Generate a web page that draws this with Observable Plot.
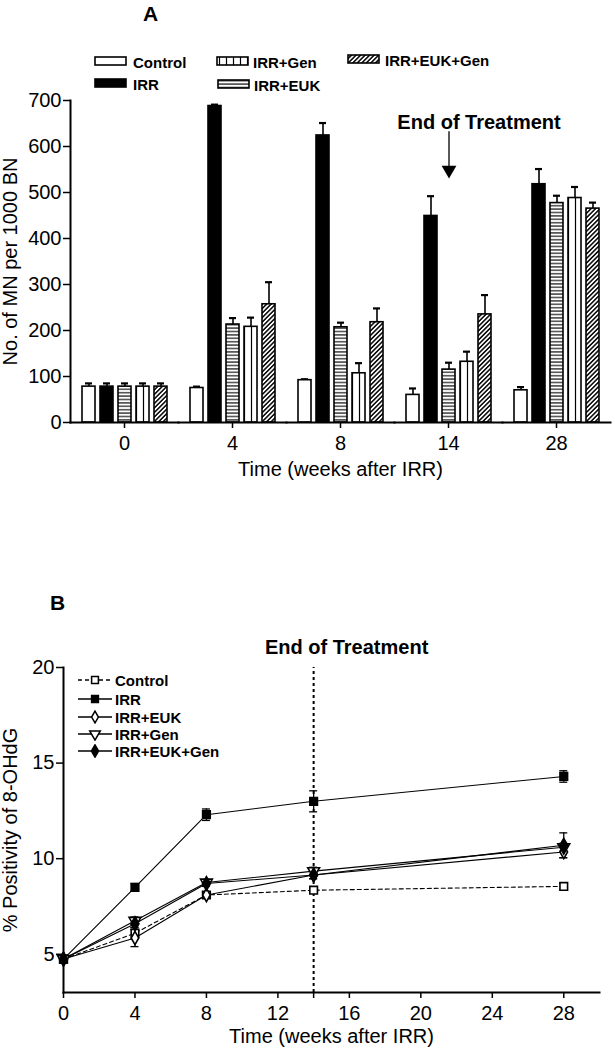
<!DOCTYPE html>
<html><head><meta charset="utf-8">
<script src="https://cdn.jsdelivr.net/npm/d3@7"></script>
<script src="https://cdn.jsdelivr.net/npm/@observablehq/plot@0.6"></script>
<style>
body{margin:0;background:#fff;font-family:"Liberation Sans",Arial,sans-serif;}
#root{position:relative;width:615px;height:1050px;overflow:hidden;background:#fff;}
.abs{position:absolute;}
.lab{position:absolute;font-weight:bold;color:#000;white-space:nowrap;line-height:1;}
</style></head><body>
<svg width="0" height="0" style="position:absolute">
<defs>
<pattern id="pH" patternUnits="userSpaceOnUse" width="4" height="3.4"><rect width="4" height="3.4" fill="white"/><line x1="0" y1="1.7" x2="4" y2="1.7" stroke="black" stroke-width="1.1"/></pattern>
<pattern id="pV" patternUnits="userSpaceOnUse" width="7" height="4"><rect width="7" height="4" fill="white"/><line x1="3.5" y1="0" x2="3.5" y2="4" stroke="black" stroke-width="1.2"/></pattern>
<pattern id="pD" patternUnits="userSpaceOnUse" width="3.2" height="3.2" patternTransform="rotate(45)"><rect width="3.2" height="3.2" fill="white"/><line x1="0.8" y1="0" x2="0.8" y2="3.2" stroke="black" stroke-width="1.5"/></pattern>
</defs></svg>
<div id="root"></div>
<script>
// ---------- Panel A data ----------
const weeksA = ["0", "4", "8", "14", "28"];
const groupsA = ["Control", "IRR", "IRR+EUK", "IRR+Gen", "IRR+EUK+Gen"];
const controlA = [78, 75, 92, 60, 70];
const controlErrA = [7, 3, 2, 14, 7];
const irrA = [78, 688, 624, 449, 518];
const irrErrA = [7, 3, 27, 43, 33];
const eukA = [78, 213, 207, 115, 477];
const eukErrA = [7, 14, 10, 15, 16];
const genA = [78, 208, 107, 132, 488];
const genErrA = [7, 20, 22, 22, 24];
const eukGenA = [78, 257, 218, 235, 465];
const eukGenErrA = [7, 48, 30, 42, 13];
const yTicksA = [0, 100, 200, 300, 400, 500, 600, 700];
const annotA = [{week: "14", group: "IRR+EUK", label: "End of Treatment", textY: 652, y1: 632, y2: 556, tipY: 549}];

// ---------- Panel B data ----------
const weeksB = [0, 4, 8, 14, 28];
const groupsB = ["Control", "IRR", "IRR+EUK", "IRR+Gen", "IRR+EUK+Gen"];
const controlB = [4.75, 6.1, 8.1, 8.35, 8.55];
const controlErrB = [0.1, 0.3, 0.15, 0.15, 0.15];
const irrB = [4.75, 8.5, 12.3, 13.0, 14.3];
const irrErrB = [0.1, 0.2, 0.3, 0.55, 0.3];
const eukB = [4.75, 5.85, 8.1, 9.15, 10.35];
const eukErrB = [0.1, 0.45, 0.15, 0.2, 0.3];
const genB = [4.75, 6.75, 8.75, 9.35, 10.6];
const genErrB = [0.1, 0.2, 0.15, 0.2, 0.2];
const eukGenB = [4.75, 6.6, 8.7, 9.15, 10.7];
const eukGenErrB = [0.1, 0.2, 0.15, 0.2, 0.65];
const xTicksB = [0, 4, 8, 12, 16, 20, 24, 28];
const yTicksB = [5, 10, 15, 20];
const endWeekB = 14;

const FONT = '"Liberation Sans", Arial, sans-serif';
const root = document.getElementById("root");

// ---------- Panel A ----------
const valsA = [controlA, irrA, eukA, genA, eukGenA];
const errsA = [controlErrA, irrErrA, eukErrA, genErrA, eukGenErrA];
const dataA = weeksA.flatMap((w, i) => groupsA.map((g, j) => ({week: w, group: g, value: valsA[j][i], err: errsA[j][i]})));
const fillsA = {"Control": "white", "IRR": "black", "IRR+EUK": "url(#pH)", "IRR+Gen": "url(#pV)", "IRR+EUK+Gen": "url(#pD)"};

const chartA = Plot.plot({
  width: 615, height: 490,
  marginTop: 100, marginBottom: 68, marginLeft: 70, marginRight: 5,
  style: {fontFamily: FONT, fontSize: "20px", color: "black", background: "white", overflow: "visible"},
  fx: {domain: weeksA, padding: 0},
  x: {domain: groupsA, axis: null, paddingInner: 0.3, paddingOuter: 0.5},
  y: {domain: [0, 700]},
  color: {type: "identity"},
  marks: [
    Plot.ruleX(dataA, {fx: "week", x: "group", y1: "value", y2: d => d.value + d.err, stroke: "black", strokeWidth: 1.6}),
    Plot.tickY(dataA, {fx: "week", x: "group", y: d => d.value + d.err, stroke: "black", strokeWidth: 2.2, insetLeft: 3, insetRight: 3}),
    Plot.barY(dataA, {fx: "week", x: "group", y: "value", fill: d => fillsA[d.group], stroke: "black", strokeWidth: 1.6}),
    Plot.frame({anchor: "left", facetAnchor: "left", stroke: "black", strokeWidth: 2}),
    Plot.frame({anchor: "bottom", stroke: "black", strokeWidth: 2}),
    Plot.axisY({ticks: yTicksA, tickSize: 7, tickPadding: 2, strokeWidth: 1.5, fontSize: 20, label: "No. of MN per 1000 BN", labelAnchor: "center", labelOffset: 68, labelArrow: "none"}),
    Plot.axisFx({anchor: "bottom", tickSize: 6, tickPadding: 7, strokeWidth: 1.5, fontSize: 20, label: "Time (weeks after IRR)", labelAnchor: "center", labelOffset: 53, labelArrow: "none"}),
    Plot.ruleX(annotA, {fx: "week", x: "group", y1: "y1", y2: "y2", stroke: "black", strokeWidth: 1.3}),
    Plot.dot(annotA, {fx: "week", x: "group", y: "tipY", symbol: "triangle", rotate: 180, r: 5.5, fill: "black", stroke: "none"}),
    Plot.text(annotA, {fx: "week", x: "group", y: "textY", text: "label", dx: 30, fontSize: 20, fontWeight: "bold"})
  ]
});
const wrapA = document.createElement("div");
wrapA.className = "abs"; wrapA.style.left = "0px"; wrapA.style.top = "0px";
wrapA.appendChild(chartA);
root.appendChild(wrapA);

// ---------- Panel B ----------
const valsB = [controlB, irrB, eukB, genB, eukGenB];
const errsB = [controlErrB, irrErrB, eukErrB, genErrB, eukGenErrB];
const dataB = groupsB.flatMap((g, j) => weeksB.map((w, i) => ({group: g, week: w, value: valsB[j][i], err: errsB[j][i]})));
const symB = {
  "Control": {symbol: "square", fill: "white", r: 4.3},
  "IRR": {symbol: "square", fill: "black", r: 4.3},
  "IRR+EUK": {symbol: "diamond", fill: "white", r: 4},
  "IRR+Gen": {symbol: "triangle", fill: "white", r: 4.4, rotate: 180},
  "IRR+EUK+Gen": {symbol: "diamond", fill: "black", r: 4.2}
};
const dotMarks = groupsB.map(g => Plot.dot(dataB.filter(d => d.group === g), {
  x: "week", y: "value", symbol: symB[g].symbol, fill: symB[g].fill, r: symB[g].r,
  rotate: symB[g].rotate || 0, stroke: "black", strokeWidth: 1.6
}));

const chartB = Plot.plot({
  width: 615, height: 490,
  marginTop: 107, marginBottom: 58, marginLeft: 63, marginRight: 16,
  style: {fontFamily: FONT, fontSize: "20px", color: "black", background: "white", overflow: "visible"},
  x: {domain: [0, 30]},
  y: {domain: [3, 20]},
  marks: [
    Plot.ruleX([endWeekB], {y1: 3, y2: 20, stroke: "black", strokeWidth: 2, strokeDasharray: "3,3"}),
    Plot.line(dataB.filter(d => d.group !== "Control"), {x: "week", y: "value", z: "group", stroke: "black", strokeWidth: 1.1}),
    Plot.line(dataB.filter(d => d.group === "Control"), {x: "week", y: "value", stroke: "black", strokeWidth: 1.1, strokeDasharray: "4,3"}),
    Plot.ruleX(dataB, {x: "week", y1: d => d.value - d.err, y2: d => d.value + d.err, stroke: "black", strokeWidth: 1.3}),
    Plot.ruleY(dataB, {x1: "week", x2: "week", y: d => d.value + d.err, insetLeft: -4, insetRight: -4, stroke: "black", strokeWidth: 1.3}),
    Plot.ruleY(dataB, {x1: "week", x2: "week", y: d => d.value - d.err, insetLeft: -4, insetRight: -4, stroke: "black", strokeWidth: 1.3}),
    ...dotMarks,
    Plot.frame({anchor: "left", stroke: "black", strokeWidth: 2}),
    Plot.frame({anchor: "bottom", stroke: "black", strokeWidth: 2}),
    Plot.axisY({ticks: yTicksB, tickSize: 7, tickPadding: 2, strokeWidth: 1.5, fontSize: 20, label: "% Positivity of 8-OHdG", labelAnchor: "center", labelOffset: 61, labelArrow: "none"}),
    Plot.axisX({ticks: xTicksB, tickSize: 6, tickPadding: 7, strokeWidth: 1.5, fontSize: 20, label: "Time (weeks after IRR)", labelAnchor: "center", labelOffset: 50, labelArrow: "none"}),
    Plot.axisX({ticks: [endWeekB], tickSize: 6, tickFormat: () => "", strokeWidth: 1.5, label: null}),
    Plot.text([{x: endWeekB, y: 20, label: "End of Treatment"}], {x: "x", y: "y", text: "label", dx: 33, dy: -20, fontSize: 20, fontWeight: "bold"})
  ]
});
const wrapB = document.createElement("div");
wrapB.className = "abs"; wrapB.style.left = "0px"; wrapB.style.top = "560px";
wrapB.appendChild(chartB);
root.appendChild(wrapB);

// ---------- Panel letters ----------
function addLabel(txt, left, cy, fs) {
  const d = document.createElement("div");
  d.className = "lab"; d.textContent = txt;
  d.style.left = left + "px"; d.style.top = (cy - 0.49 * fs) + "px"; d.style.fontSize = fs + "px";
  root.appendChild(d);
  return d;
}
addLabel("A", 143, 13, 21);
addLabel("B", 50, 602, 21);

// ---------- Legend A ----------
const legendA = [
  {g: "Control", sx: 95, sy: 57, tx: 133, cy: 62},
  {g: "IRR", sx: 95, sy: 79, tx: 133, cy: 84},
  {g: "IRR+Gen", sx: 217, sy: 57, tx: 253, cy: 62},
  {g: "IRR+EUK", sx: 218, sy: 80, tx: 254, cy: 85},
  {g: "IRR+EUK+Gen", sx: 348, sy: 55, tx: 385, cy: 60}
];
legendA.forEach(e => {
  const s = d3.create("svg").attr("width", 34).attr("height", 11)
    .style("position", "absolute").style("left", (e.sx - 1) + "px").style("top", (e.sy - 1) + "px");
  s.append("rect").attr("x", 1).attr("y", 1).attr("width", 31).attr("height", 8)
    .attr("fill", fillsA[e.g]).attr("stroke", "black").attr("stroke-width", 1.6);
  root.appendChild(s.node());
  addLabel(e.g, e.tx, e.cy, 15);
});

// ---------- Legend B ----------
const legendRowsB = [680, 699, 717, 734, 751];
groupsB.forEach((g, i) => {
  const cy = legendRowsB[i];
  const s = d3.create("svg").attr("width", 36).attr("height", 14)
    .style("position", "absolute").style("left", "77px").style("top", (cy - 7) + "px");
  s.append("line").attr("x1", 1).attr("x2", 35).attr("y1", 7).attr("y2", 7)
    .attr("stroke", "black").attr("stroke-width", 1.3)
    .attr("stroke-dasharray", g === "Control" ? "4,3" : null);
  const sym = symB[g];
  const sh = {square: d3.symbolSquare, diamond: d3.symbolDiamond, triangle: d3.symbolTriangle}[sym.symbol];
  s.append("path").attr("d", d3.symbol(sh, Math.PI * sym.r * sym.r * 0.8)())
    .attr("transform", `translate(18,7) rotate(${sym.rotate || 0})`)
    .attr("fill", sym.fill).attr("stroke", "black").attr("stroke-width", 1.5);
  root.appendChild(s.node());
  addLabel(g, 115, cy, 15);
});
</script>
</body></html>
